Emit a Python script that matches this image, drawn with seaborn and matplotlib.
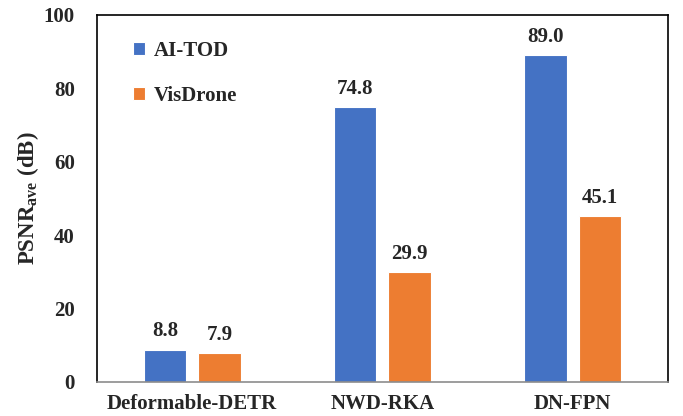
import pandas as pd
import matplotlib.pyplot as plt
import seaborn as sns

methods = ['Deformable-DETR', 'NWD-RKA', 'DN-FPN']
ai_tod = [8.8, 74.8, 89.0]
visdrone = [7.9, 29.9, 45.1]
datasets = ['AI-TOD', 'VisDrone']
yticks = [0, 20, 40, 60, 80, 100]

data = pd.DataFrame({
    'Method': methods * 2,
    'Dataset': [datasets[0]] * 3 + [datasets[1]] * 3,
    'PSNR': ai_tod + visdrone,
})

sns.set_style('white')
plt.rcParams['font.family'] = ['Liberation Serif', 'DejaVu Serif']
plt.rcParams['font.weight'] = 'bold'
plt.rcParams['mathtext.fontset'] = 'custom'
plt.rcParams['mathtext.bf'] = 'Liberation Serif:bold'
plt.rcParams['mathtext.rm'] = 'Liberation Serif:bold'

fig = plt.figure(figsize=(6.83, 4.16), dpi=100)
ax = fig.add_axes([0.142, 0.082, 0.836, 0.882])

sns.barplot(data=data, x='Method', y='PSNR', hue='Dataset', ax=ax,
            palette=['#4472C4', '#ED7D31'], width=0.574, gap=0.22,
            edgecolor='white', linewidth=0.8, saturation=1)

for c in ax.containers:
    ax.bar_label(c, fmt='%.1f', padding=6, fontsize=15, fontweight='bold')

ax.set_ylim(0, 100)
ax.set_yticks(yticks)
ax.set_xlabel('')
ax.set_ylabel(r'PSNR$_{\mathrm{ave}}$ (dB)', fontsize=16.5, fontweight='bold', labelpad=2)
ax.tick_params(axis='both', labelsize=15, length=0)
ax.tick_params(axis='x', pad=9)
ax.tick_params(axis='y', pad=16)
for lab in ax.get_xticklabels() + ax.get_yticklabels():
    lab.set_fontweight('bold')

for s in ['left', 'top', 'right']:
    ax.spines[s].set_color('black')
    ax.spines[s].set_linewidth(1.2)
ax.spines['bottom'].set_color('#8c8c8c')
ax.spines['bottom'].set_linewidth(1.2)

ax.legend(loc='upper left', bbox_to_anchor=(0.03, 0.98), frameon=False,
          handlelength=0.6, handleheight=0.6, labelspacing=1.2,
          handletextpad=0.4, prop={'weight': 'bold', 'size': 15})

fig.savefig('out.png', dpi=100)
